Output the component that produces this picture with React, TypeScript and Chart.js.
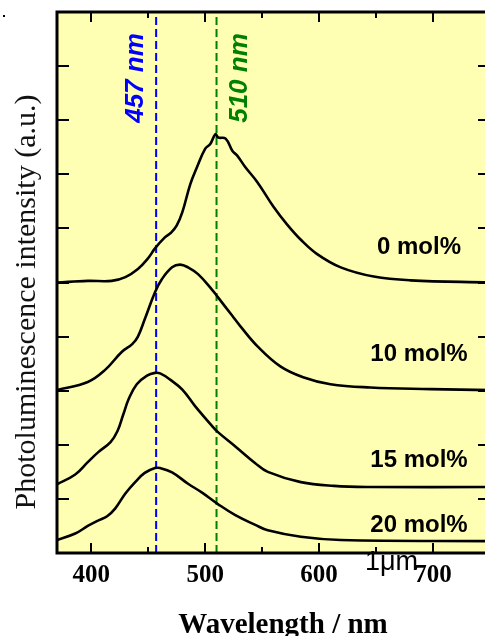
import React, { useEffect, useRef } from "react";
import { Chart, registerables } from "chart.js";

Chart.register(...registerables);

// Photoluminescence spectra (offset stacked), wavelength in nm
const wl0 = [370, 397, 418, 430, 441, 450, 456, 464, 470, 475, 480, 487, 493, 500, 504.5, 509, 511.5, 518, 524, 528, 535, 546, 560, 572, 584, 598, 619, 648, 680, 750];
const pl0 = [5.0, 5.03, 5.03, 5.1, 5.25, 5.45, 5.63, 5.82, 5.92, 6.05, 6.3, 6.82, 7.14, 7.47, 7.56, 7.74, 7.68, 7.66, 7.43, 7.35, 7.14, 6.85, 6.4, 6.07, 5.79, 5.53, 5.28, 5.11, 5.04, 5.0];

const wl10 = [370, 397, 412, 427, 436, 441, 447, 456, 462, 471, 478, 485, 494, 506, 511.5, 524, 531, 546, 566, 586, 610, 645, 698, 750];
const pl10 = [3.01, 3.16, 3.38, 3.72, 3.86, 4.0, 4.32, 4.82, 5.06, 5.28, 5.33, 5.28, 5.15, 4.87, 4.72, 4.38, 4.19, 3.82, 3.45, 3.25, 3.12, 3.06, 3.03, 3.01];

const wl15 = [370, 386, 397, 406, 417, 423, 428, 433, 440, 449, 456, 460.5, 469, 480, 491, 506, 511.5, 526.5, 544, 555, 584, 613, 645, 750];
const pl15 = [1.27, 1.45, 1.68, 1.86, 2.05, 2.25, 2.55, 2.85, 3.12, 3.28, 3.33, 3.32, 3.21, 3.02, 2.72, 2.35, 2.23, 1.97, 1.66, 1.5, 1.31, 1.24, 1.22, 1.22];

const wl20 = [370, 386, 397, 406, 414, 421, 430, 439, 447, 456, 460.5, 471, 485, 497, 511.5, 526.5, 544, 555, 584, 619, 750];
const pl20 = [0.24, 0.36, 0.5, 0.6, 0.68, 0.82, 1.1, 1.32, 1.48, 1.57, 1.57, 1.49, 1.28, 1.12, 0.9, 0.7, 0.52, 0.42, 0.3, 0.24, 0.22];

const seriesLabels = ["0 mol%", "10 mol%", "15 mol%", "20 mol%"];
const seriesLabelLevels = [5.53, 3.55, 1.59, 0.39];
const seriesLabelWavelength = 687.7;

const markerWavelengths = [457, 510];
const markerLabels = ["457 nm", "510 nm"];
const markerColors = ["#0000ff", "#008000"];

const xTickLabels = [400, 500, 600, 700];
const xTickMarks = [400, 450, 500, 550, 600, 650, 700];
const yTickValues = [1, 2, 3, 4, 5, 6, 7, 8, 9];

const xTitle = "Wavelength / nm";
const yTitle = "Photoluminescence intensity (a.u.)";
const stray = "1\u03bcm";

const toPts = (xs: number[], ys: number[]) => xs.map((x, i) => ({ x, y: ys[i] }));

const decor = {
  id: "decor",
  beforeDatasetsDraw(chart: any) {
    const { ctx, chartArea: a } = chart;
    ctx.save();
    ctx.fillStyle = "#ffffb4";
    ctx.fillRect(a.left, a.top, a.right - a.left, a.bottom - a.top);
    ctx.restore();
  },
  afterDatasetsDraw(chart: any) {
    const { ctx, chartArea: a, scales } = chart;
    const x = scales.x;
    const y = scales.y;
    ctx.save();
    ctx.strokeStyle = "#000";
    ctx.lineWidth = 2;
    ctx.beginPath();
    xTickMarks.forEach((v) => {
      const px = Math.round(x.getPixelForValue(v));
      const len = v % 100 === 0 ? 10 : 6;
      ctx.moveTo(px, a.bottom);
      ctx.lineTo(px, a.bottom - len);
      ctx.moveTo(px, a.top);
      ctx.lineTo(px, a.top + len);
    });
    yTickValues.forEach((v) => {
      const py = Math.round(y.getPixelForValue(v));
      ctx.moveTo(a.left, py);
      ctx.lineTo(a.left + 12, py);
      ctx.moveTo(a.right, py);
      ctx.lineTo(a.right - 12, py);
    });
    ctx.stroke();
    ctx.lineWidth = 3;
    ctx.strokeRect(a.left, a.top, a.right - a.left, a.bottom - a.top);
    ctx.restore();
  },
  afterDraw(chart: any) {
    const { ctx, scales } = chart;
    const x = scales.x;
    const y = scales.y;
    ctx.save();
    const offsets = [-13, 30];
    markerLabels.forEach((t, i) => {
      ctx.save();
      ctx.translate(x.getPixelForValue(markerWavelengths[i]) + offsets[i], y.getPixelForValue(8.78));
      ctx.rotate(-Math.PI / 2);
      ctx.font = "italic bold 26px 'Liberation Sans', Arial, sans-serif";
      ctx.fillStyle = markerColors[i];
      ctx.textAlign = "center";
      ctx.textBaseline = "alphabetic";
      ctx.fillText(t, 0, 0);
      ctx.restore();
    });
    ctx.font = "bold 24px 'Liberation Sans', Arial, sans-serif";
    ctx.fillStyle = "#000";
    ctx.textAlign = "center";
    ctx.textBaseline = "alphabetic";
    seriesLabels.forEach((t, i) => {
      ctx.fillText(t, x.getPixelForValue(seriesLabelWavelength), y.getPixelForValue(seriesLabelLevels[i]));
    });
    ctx.save();
    ctx.translate(35, 302);
    ctx.rotate(-Math.PI / 2);
    ctx.font = "30px 'Liberation Serif', 'Times New Roman', serif";
    ctx.fillStyle = "#111";
    ctx.fillText(yTitle, 0, 0);
    ctx.restore();
    ctx.font = "bold 29px 'Liberation Serif', 'Times New Roman', serif";
    ctx.fillStyle = "#000";
    ctx.fillText(xTitle, 283, 633);
    ctx.font = "27px 'Liberation Sans', Arial, sans-serif";
    ctx.textAlign = "left";
    ctx.fillText(stray, 365, 570);
    ctx.fillRect(3, 15, 2, 2);
    ctx.restore();
  },
};

export default function App() {
  const ref = useRef<HTMLCanvasElement>(null);
  useEffect(() => {
    if (!ref.current) return;
    const lineDs = (xs: number[], ys: number[]) => ({
      data: toPts(xs, ys),
      borderColor: "#000",
      borderWidth: 2.6,
      pointRadius: 0,
      fill: false,
      tension: 0.4,
    });
    const chart = new Chart(ref.current, {
      type: "line",
      data: {
        datasets: [
          lineDs(wl0, pl0),
          lineDs(wl10, pl10),
          lineDs(wl15, pl15),
          lineDs(wl20, pl20),
          ...markerWavelengths.map((w, i) => ({
            data: [
              { x: w, y: 0 },
              { x: w, y: 10 },
            ],
            borderColor: markerColors[i],
            borderWidth: 2,
            borderDash: [8, 4],
            pointRadius: 0,
            fill: false,
          })),
        ],
      },
      plugins: [decor],
      options: {
        responsive: false,
        animation: false,
        events: [],
        layout: { padding: { left: 57, top: 12, right: 2, bottom: 0 } },
        plugins: { legend: { display: false }, tooltip: { enabled: false } },
        scales: {
          x: {
            type: "linear",
            min: 370,
            max: 750,
            position: "bottom",
            grid: { display: false, drawTicks: false },
            border: { display: false },
            afterBuildTicks: (s: any) => {
              s.ticks = xTickLabels.map((v) => ({ value: v }));
            },
            afterFit: (s: any) => {
              s.height = 83;
            },
            ticks: {
              autoSkip: false,
              maxRotation: 0,
              padding: 8,
              color: "#000",
              font: { family: "'Liberation Serif', 'Times New Roman', serif", size: 25, weight: "bold" },
            },
          },
          y: {
            type: "linear",
            min: 0,
            max: 10,
            display: false,
          },
        },
      },
    });
    return () => chart.destroy();
  }, []);
  return (
    <div style={{ position: "absolute", left: 0, top: 0, width: 485, height: 636, overflow: "hidden" }}>
      <canvas ref={ref} width={492} height={636} style={{ display: "block", width: 492, height: 636 }} />
    </div>
  );
}
